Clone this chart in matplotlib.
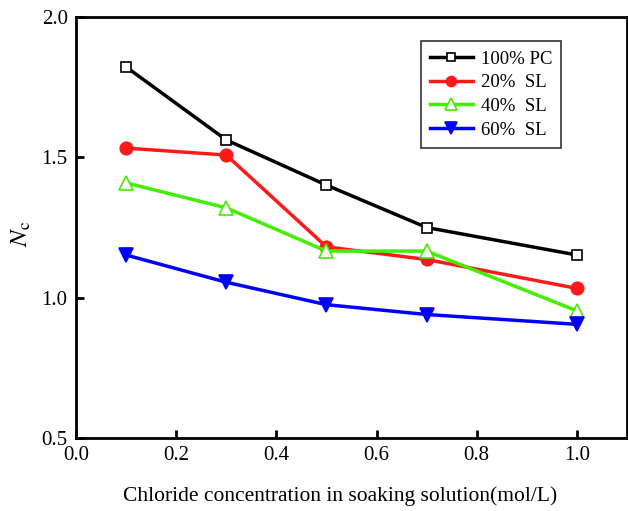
import matplotlib
matplotlib.use("Agg")
import matplotlib.pyplot as plt

plt.rcParams["font.family"] = "Liberation Serif"
plt.rcParams["mathtext.fontset"] = "stix"

concentration = [0.1, 0.3, 0.5, 0.7, 1.0]
pc_100 = [1.822, 1.562, 1.401, 1.250, 1.152]
sl_20 = [1.533, 1.508, 1.181, 1.136, 1.033]
sl_40 = [1.409, 1.320, 1.166, 1.166, 0.953]
sl_60 = [1.152, 1.055, 0.975, 0.940, 0.905]

series = [
    ("100% PC", pc_100, "black", "s", "white", 7),
    ("20%  SL", sl_20, "#ff1a1a", "o", "#ff1a1a", 9),
    ("40%  SL", sl_40, "#44ee00", "^", "white", 10),
    ("60%  SL", sl_60, "#0000ff", "v", "#0000ff", 10),
]

fig = plt.figure(figsize=(6.28, 5.11), dpi=100)
ax = fig.add_axes([76 / 628, 73 / 511, 551 / 628, 421 / 511])

for label, values, color, marker, face, size in series:
    ax.plot(concentration, values, color=color, lw=2.5, marker=marker,
            markersize=size, markerfacecolor=face, markeredgecolor=color,
            markeredgewidth=1.2, label=label)

ax.set_xlim(0, 1.1)
ax.set_ylim(0.5, 2.0)
ax.set_xticks([0.0, 0.2, 0.4, 0.6, 0.8, 1.0])
ax.set_yticks([0.5, 1.0, 1.5, 2.0])
ax.tick_params(direction="in", length=6, width=2, labelsize=15, pad=6)
for spine in ax.spines.values():
    spine.set_linewidth(2)

ax.set_xlabel("Chloride concentration in soaking solution(mol/L)", fontsize=15.5)
ax.xaxis.set_label_coords(0.479, -0.115)
ax.set_ylabel(r"$N_\mathrm{c}$", fontsize=18)
ax.yaxis.set_label_coords(-0.078, 0.485)

leg = ax.legend(loc="upper right", bbox_to_anchor=(0.898, 0.965), fontsize=13.5,
                fancybox=False, edgecolor="black", handlelength=2.3,
                handletextpad=0.4, borderpad=0.5, labelspacing=0.35,
                markerscale=0.8)
leg.get_frame().set_linewidth(1.2)

fig.savefig("out.png", dpi=100)
